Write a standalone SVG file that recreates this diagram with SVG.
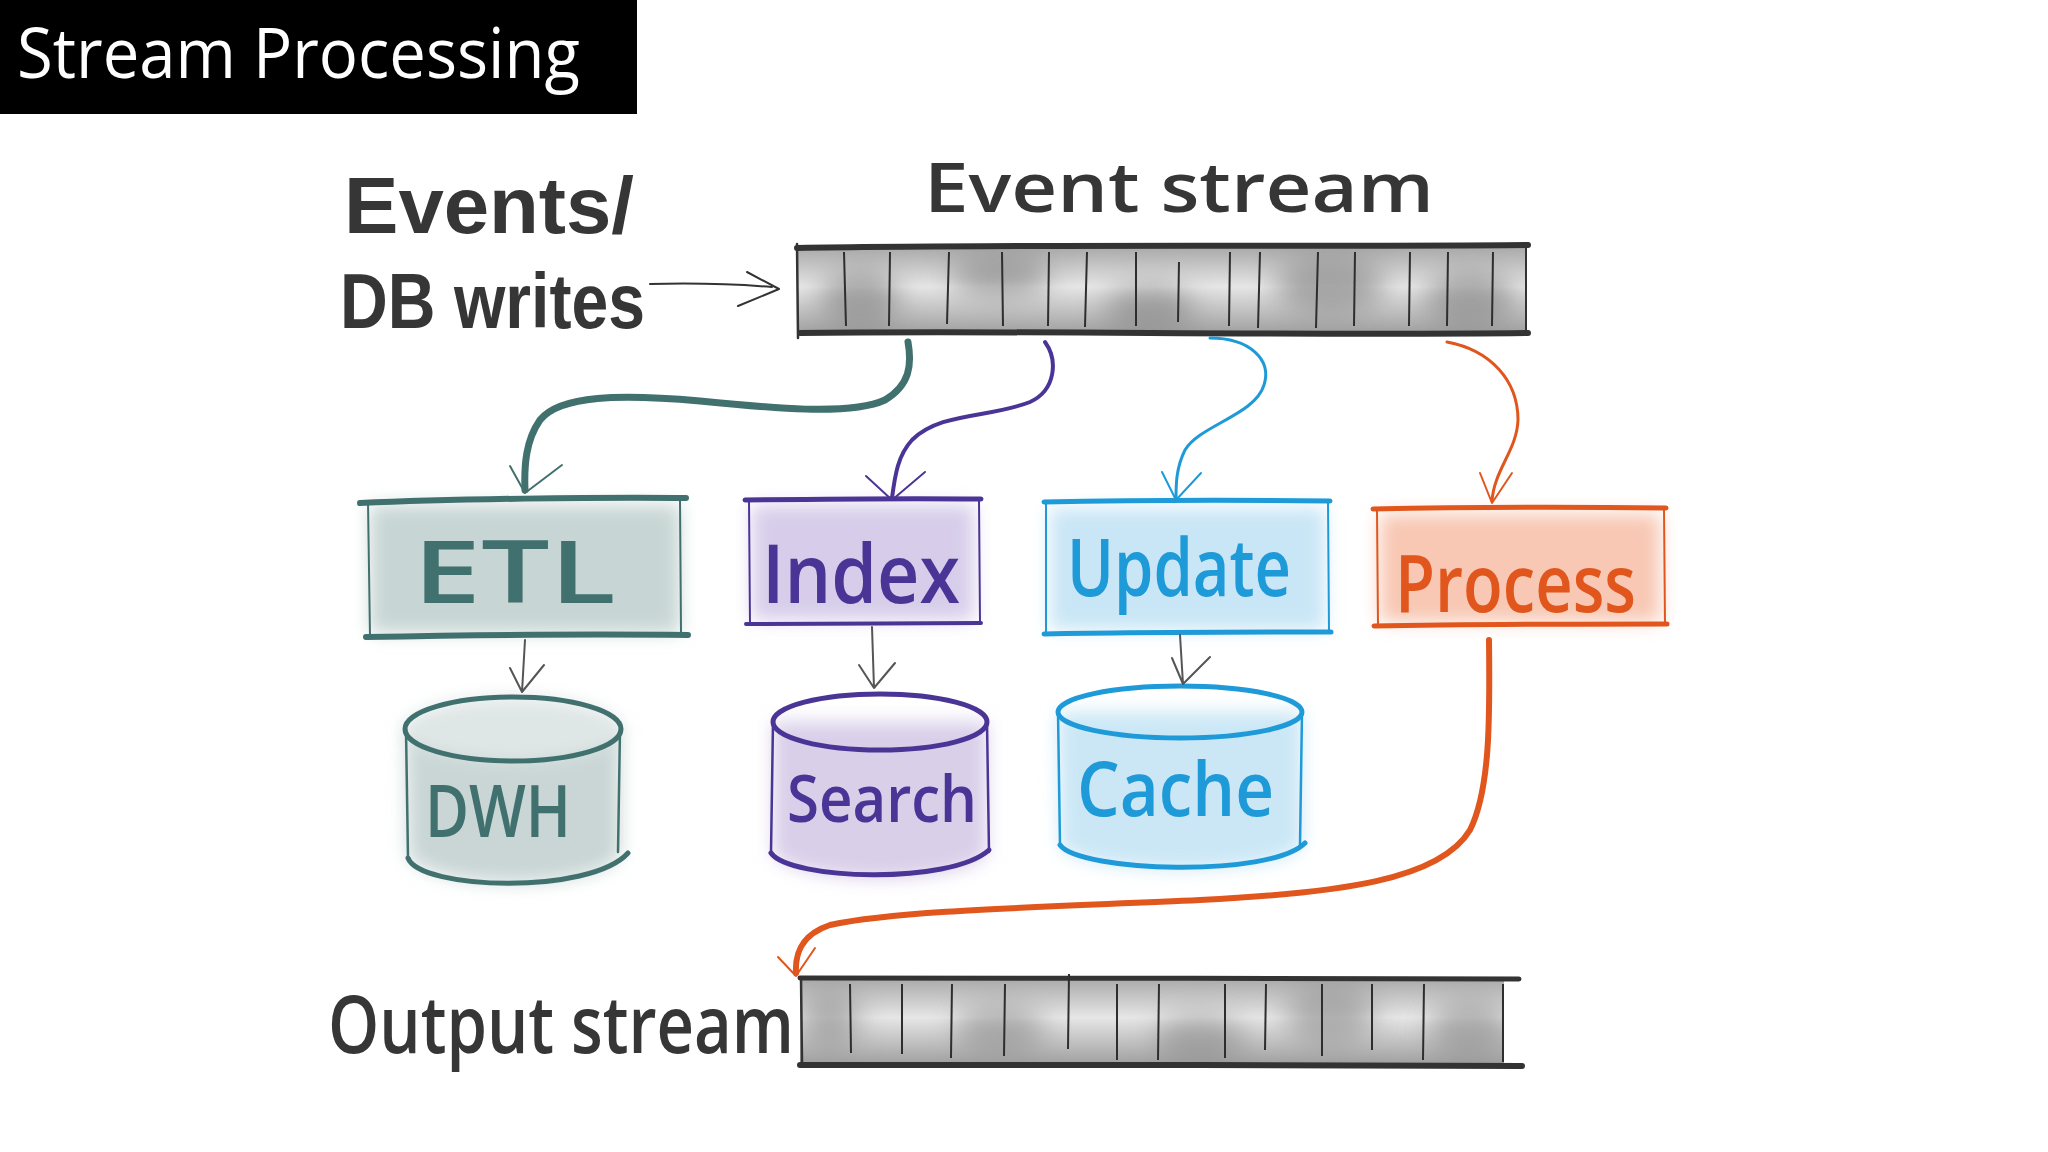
<svg xmlns="http://www.w3.org/2000/svg" width="2048" height="1152" viewBox="0 0 2048 1152">
<style>
  .hand { font-family: "Open Sans", "Noto Sans", sans-serif; font-weight: 600; }
  .hand2 { font-family: "Liberation Sans", "Arial", sans-serif; font-weight: 700; }
  .dark { fill: #363636; }
  .title { font-family: "Open Sans", "Liberation Sans", sans-serif; fill: #ffffff; font-size: 70px; }
  .bar-line { stroke: #333; fill: none; stroke-linecap: round; }
  .div { stroke: #2e2e2e; stroke-width: 2; fill: none; }
  .thin { fill: none; stroke-width: 2; stroke-linecap: round; stroke-linejoin: round; }
  .thick { fill: none; stroke-linecap: round; stroke-linejoin: round; }
</style>
<defs>
  <filter id="wash" x="-30%" y="-30%" width="160%" height="160%"><feGaussianBlur stdDeviation="9"/></filter>
  <filter id="blob" x="-50%" y="-50%" width="200%" height="200%"><feGaussianBlur stdDeviation="14"/></filter>
  <linearGradient id="barGrad" x1="0" y1="0" x2="0" y2="1">
    <stop offset="0" stop-color="#a9a9a9"/>
    <stop offset="0.45" stop-color="#e6e6e6"/>
    <stop offset="1" stop-color="#9d9d9d"/>
  </linearGradient>
  <clipPath id="clipTop"><rect x="797" y="247" width="730" height="88"/></clipPath>
  <clipPath id="clipOut"><rect x="800" y="978" width="704" height="88"/></clipPath>
</defs>
<rect width="2048" height="1152" fill="#ffffff"/>

<g id="title">
  <rect x="0" y="0" width="637" height="114" fill="#000000"/>
  <text class="title" x="17" y="78" textLength="563" lengthAdjust="spacingAndGlyphs">Stream Processing</text>
</g>

<g id="events-label">
  <text class="hand2 dark" x="344" y="233" font-size="80" textLength="290" lengthAdjust="spacingAndGlyphs">Events/</text>
  <text class="hand2 dark" x="340" y="328" font-size="78" textLength="305" lengthAdjust="spacingAndGlyphs">DB writes</text>
</g>

<g id="event-stream">
  <text class="hand dark" x="924" y="212" font-size="68" textLength="510" lengthAdjust="spacingAndGlyphs">Event stream</text>
  <g clip-path="url(#clipTop)">
    <rect x="797" y="247" width="730" height="88" fill="url(#barGrad)"/>
    <g filter="url(#blob)" fill="#8a8a8a" opacity="0.7">
      <ellipse cx="860" cy="300" rx="40" ry="30"/>
      <ellipse cx="1000" cy="275" rx="50" ry="22"/>
      <ellipse cx="1150" cy="310" rx="45" ry="25"/>
      <ellipse cx="1330" cy="285" rx="55" ry="30"/>
      <ellipse cx="1470" cy="300" rx="45" ry="30"/>
    </g>
  </g>
  <path class="bar-line" stroke-width="6" d="M797,248 C1000,244 1300,247 1528,245"/>
  <path class="bar-line" stroke-width="6" d="M800,333 C1000,330 1300,336 1528,333"/>
  <path class="bar-line" stroke-width="2.5" d="M797,244 L798,338"/>
  <path class="bar-line" stroke-width="2" d="M1526,247 L1526,332"/>
  <g class="div">
    <path d="M844,252 L846,326"/><path d="M890,252 L889,326"/><path d="M949,252 L947,324"/>
    <path d="M1002,252 L1003,326"/><path d="M1049,252 L1048,326"/><path d="M1087,252 L1085,327"/>
    <path d="M1136,252 L1136,326"/><path d="M1179,262 L1178,322"/><path d="M1230,252 L1229,326"/>
    <path d="M1260,252 L1258,328"/><path d="M1318,252 L1316,328"/><path d="M1355,252 L1354,326"/>
    <path d="M1410,252 L1409,326"/><path d="M1448,252 L1447,326"/><path d="M1493,252 L1492,326"/>
  </g>
</g>

<g id="etl">
  <rect x="370" y="505" width="310" height="128" fill="#c7d6d4" filter="url(#wash)"/>
  <path class="thick" stroke="#41716f" stroke-width="2" d="M368,502 L370,636 M680,500 L681,632"/>
  <path class="thick" stroke="#41716f" stroke-width="6" d="M360,503 C450,499 600,497 686,498"/>
  <path class="thick" stroke="#41716f" stroke-width="6" d="M366,637 C470,635 600,634 688,635"/>
  <text class="hand" fill="#41716f" x="413" y="603" font-size="86" textLength="203" lengthAdjust="spacingAndGlyphs">ETL</text>
</g>

<g id="index">
  <rect x="752" y="505" width="222" height="115" fill="#d7cdea" filter="url(#wash)"/>
  <path class="thick" stroke="#4a3596" stroke-width="2" d="M749,500 L750,624 M979,500 L980,622"/>
  <path class="thick" stroke="#4a3596" stroke-width="5" d="M745,500 C820,499 900,498 981,499"/>
  <path class="thick" stroke="#4a3596" stroke-width="4" d="M746,624 C830,624 900,623 981,623"/>
  <text class="hand" fill="#4a3596" x="762" y="603" font-size="82" textLength="198" lengthAdjust="spacingAndGlyphs">Index</text>
</g>

<g id="update">
  <rect x="1050" y="508" width="275" height="122" fill="#c9e6f6" filter="url(#wash)"/>
  <path class="thick" stroke="#1f9ad8" stroke-width="2" d="M1046,503 L1046,633 M1328,502 L1329,632"/>
  <path class="thick" stroke="#1f9ad8" stroke-width="5" d="M1044,502 C1140,500 1240,500 1330,501"/>
  <path class="thick" stroke="#1f9ad8" stroke-width="5" d="M1044,634 C1140,632 1240,632 1331,632"/>
  <text class="hand" fill="#1f9ad8" x="1067" y="596" font-size="80" textLength="224" lengthAdjust="spacingAndGlyphs">Update</text>
</g>

<g id="process">
  <rect x="1380" y="514" width="280" height="108" fill="#f8c8b4" filter="url(#wash)"/>
  <path class="thick" stroke="#e0561d" stroke-width="2" d="M1377,510 L1378,626 M1664,509 L1665,625"/>
  <path class="thick" stroke="#e0561d" stroke-width="5" d="M1373,509 C1470,507 1580,507 1666,508"/>
  <path class="thick" stroke="#e0561d" stroke-width="5" d="M1374,626 C1470,624 1580,624 1667,624"/>
  <text class="hand" fill="#e0561d" x="1395" y="612" font-size="80" textLength="241" lengthAdjust="spacingAndGlyphs">Process</text>
</g>

<g id="dwh">
  <path d="M406,729 L408,855 A107,32 0 0 0 620,855 L620,729 Z" fill="#c9d6d5" filter="url(#wash)"/>
  <ellipse cx="513" cy="729" rx="108" ry="32" fill="#dfe7e6" filter="url(#wash)"/>
  <ellipse cx="513" cy="729" rx="108" ry="32" fill="none" stroke="#41716f" stroke-width="5"/>
  <path class="thick" stroke="#41716f" stroke-width="2.5" d="M406,729 L408,858 M620,729 L618,852"/>
  <path class="thick" stroke="#41716f" stroke-width="5" d="M408,858 C420,890 590,895 628,853"/>
  <text class="hand" fill="#41716f" x="425" y="837" font-size="72" textLength="146" lengthAdjust="spacingAndGlyphs">DWH</text>
</g>

<g id="search">
  <path d="M773,722 L773,850 A107,28 0 0 0 987,850 L987,722 Z" fill="#d9cfe9" filter="url(#wash)"/>
  <ellipse cx="880" cy="722" rx="107" ry="28" fill="none" stroke="#4a3596" stroke-width="5"/>
  <path class="thick" stroke="#4a3596" stroke-width="2.5" d="M773,722 L771,853 M987,722 L989,852"/>
  <path class="thick" stroke="#4a3596" stroke-width="5" d="M771,853 C790,880 950,885 989,850"/>
  <text class="hand" fill="#4a3596" x="787" y="822" font-size="66" textLength="190" lengthAdjust="spacingAndGlyphs">Search</text>
</g>

<g id="cache">
  <path d="M1058,712 L1060,843 A121,26 0 0 0 1302,843 L1302,712 Z" fill="#cbe7f6" filter="url(#wash)"/>
  <ellipse cx="1180" cy="712" rx="122" ry="26" fill="none" stroke="#1f9ad8" stroke-width="5"/>
  <path class="thick" stroke="#1f9ad8" stroke-width="2.5" d="M1058,712 L1060,845 M1302,712 L1300,845"/>
  <path class="thick" stroke="#1f9ad8" stroke-width="5" d="M1060,845 C1080,872 1270,878 1305,843"/>
  <text class="hand" fill="#1f9ad8" x="1077" y="816" font-size="76" textLength="197" lengthAdjust="spacingAndGlyphs">Cache</text>
</g>

<g id="output-stream">
  <text class="hand dark" x="328" y="1053" font-size="80" textLength="466" lengthAdjust="spacingAndGlyphs">Output stream</text>
  <g clip-path="url(#clipOut)">
    <rect x="800" y="978" width="704" height="88" fill="url(#barGrad)"/>
    <g filter="url(#blob)" fill="#8a8a8a" opacity="0.6">
      <ellipse cx="830" cy="1020" rx="30" ry="30"/>
      <ellipse cx="1000" cy="1030" rx="45" ry="25"/>
      <ellipse cx="1200" cy="1040" rx="45" ry="25"/>
      <ellipse cx="1330" cy="1015" rx="45" ry="30"/>
      <ellipse cx="1470" cy="1030" rx="40" ry="30"/>
    </g>
  </g>
  <path class="bar-line" stroke-width="5" d="M800,978 C1000,977 1300,979 1519,979"/>
  <path class="bar-line" stroke-width="6" d="M800,1065 C1000,1063 1300,1066 1522,1066"/>
  <path class="bar-line" stroke-width="2.5" d="M801,978 L802,1062"/>
  <g class="div">
    <path d="M850,984 L851,1053"/><path d="M902,984 L902,1054"/><path d="M952,984 L951,1058"/>
    <path d="M1005,984 L1004,1056"/><path d="M1069,974 L1068,1049"/><path d="M1117,984 L1117,1060"/>
    <path d="M1159,984 L1158,1060"/><path d="M1225,984 L1225,1058"/><path d="M1266,984 L1265,1050"/>
    <path d="M1322,984 L1322,1056"/><path d="M1372,984 L1372,1050"/><path d="M1424,984 L1423,1060"/>
    <path d="M1503,984 L1503,1062"/>
  </g>
</g>

<g id="connectors">
  <path class="thin" stroke="#333" stroke-width="3" d="M650,284 C690,283 735,284 772,287"/>
  <path class="thin" stroke="#333" stroke-width="3" d="M747,272 L779,289 L738,306"/>

  <path class="thick" stroke="#41716f" stroke-width="7" d="M908,342 C912,365 910,385 885,400 C850,416 770,408 700,401 C620,394 560,395 540,420 C526,440 524,465 525,490"/>
  <path class="thin" stroke="#41716f" stroke-width="3" d="M510,466 L525,493 L562,465"/>

  <path class="thick" stroke="#4a3596" stroke-width="4" d="M1045,342 C1058,360 1056,390 1030,402 C990,418 940,412 912,440 C898,455 895,475 892,498"/>
  <path class="thin" stroke="#4a3596" stroke-width="2.5" d="M866,476 L892,500 L925,472"/>

  <path class="thick" stroke="#1f9ad8" stroke-width="3" d="M1210,338 C1250,338 1272,360 1264,385 C1255,415 1200,425 1185,450 C1176,468 1176,485 1176,498"/>
  <path class="thin" stroke="#1f9ad8" stroke-width="2" d="M1162,472 L1176,500 L1201,473"/>

  <path class="thick" stroke="#e0561d" stroke-width="3" d="M1447,342 C1490,350 1518,380 1518,420 C1517,450 1494,470 1492,501"/>
  <path class="thin" stroke="#e0561d" stroke-width="2" d="M1480,473 L1492,503 L1512,473"/>

  <path class="thick" stroke="#e0561d" stroke-width="6" d="M1489,640 C1490,720 1490,790 1470,830 C1440,880 1340,893 1200,900 C1050,907 900,910 830,925 C800,935 795,955 796,973"/>
  <path class="thin" stroke="#e0561d" stroke-width="2" d="M778,957 L796,976 L815,948"/>

  <path class="thin" stroke="#555" stroke-width="1.5" d="M525,640 L522,692 M510,668 L522,692 L544,665"/>
  <path class="thin" stroke="#555" stroke-width="1.5" d="M872,627 L874,688 M859,665 L874,688 L895,663"/>
  <path class="thin" stroke="#555" stroke-width="1.5" d="M1180,635 L1183,684 M1172,658 L1183,684 L1210,657"/>
</g>
</svg>
